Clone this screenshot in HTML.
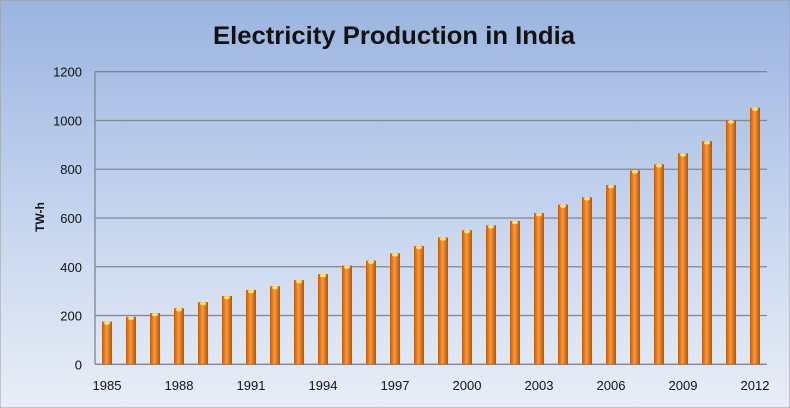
<!DOCTYPE html>
<html><head><meta charset="utf-8"><style>
html,body{margin:0;padding:0;width:790px;height:408px;overflow:hidden;background:#fff}
svg{display:block}
text{font-family:"Liberation Sans",sans-serif}
</style></head><body>
<svg id="chart" width="790" height="408" viewBox="0 0 790 408">
<defs>
<linearGradient id="bg" x1="0" y1="0" x2="0" y2="1">
<stop offset="0" stop-color="#9ab4e0"/><stop offset="0.5" stop-color="#c3d3ee"/><stop offset="1" stop-color="#e9eef7"/>
</linearGradient>
<linearGradient id="bar" x1="0" y1="0" x2="1" y2="0">
<stop offset="0" stop-color="#c25a0c"/><stop offset="0.45" stop-color="#ff9a30"/><stop offset="1" stop-color="#b8520a"/>
</linearGradient>
</defs>
<rect x="0" y="0" width="790" height="408" fill="url(#bg)" stroke="#9a9a9a"/>
<text x="394" y="44" text-anchor="middle" font-size="25" font-weight="bold" fill="#111" textLength="362" lengthAdjust="spacingAndGlyphs">Electricity Production in India</text>
<text transform="translate(44,217) rotate(-90)" text-anchor="middle" font-size="12" font-weight="bold" fill="#111">TW-h</text>
<g id="grid"></g><g id="bars"></g><g id="xlabels"></g><g id="ylabels"></g>
</svg>
<script>
const years=[1985,1986,1987,1988,1989,1990,1991,1992,1993,1994,1995,1996,1997,1998,1999,2000,2001,2002,2003,2004,2005,2006,2007,2008,2009,2010,2011,2012];
const production=[175,195,210,230,255,280,305,320,345,370,405,425,455,485,520,550,570,588,620,655,685,735,795,820,865,915,1000,1052];
const yTicks=[0,200,400,600,800,1000,1200];
const xTickLabels=["1985","1988","1991","1994","1997","2000","2003","2006","2009","2012"];
const NS="http://www.w3.org/2000/svg";
const L=95,R=767,T=71.7,B=364.3,yMax=1200;
const slot=(R-L)/years.length;
function y(v){return B-(v/yMax)*(B-T);}
function xc(i){return L+slot*(i+0.5);}
function mk(tag,attrs,parent){const e=document.createElementNS(NS,tag);for(const k in attrs)e.setAttribute(k,attrs[k]);document.getElementById(parent).appendChild(e);return e;}
yTicks.forEach(t=>{
  const g=mk('line',{x1:L,x2:R,y1:y(t),y2:y(t),stroke:'#7f8790','stroke-width':1.3},'grid');
  
  
  const lb=mk('text',{x:82,y:y(t)+5,'text-anchor':'end','font-size':13,fill:'#111'},'ylabels');
  lb.textContent=t;
  
  
});
const ax=mk('line',{x1:L,x2:L,y1:T,y2:B,stroke:'#7f8790','stroke-width':1.3},'grid');


production.forEach((v,i)=>{
  const r=mk('rect',{x:xc(i)-5,y:y(v),width:10,height:B-y(v),fill:'url(#bar)'},'bars');
  
  
  const c=mk('ellipse',{cx:xc(i),cy:y(v)+1.5,rx:3,ry:1.8,fill:'#ffe46a'},'bars');
  
  
});
xTickLabels.forEach(s=>{
  const i=years.indexOf(+s);
  const t=mk('text',{x:xc(i),y:390,'text-anchor':'middle','font-size':13,fill:'#111'},'xlabels');
  t.textContent=s;
  
  
});
</script>
</body></html>
